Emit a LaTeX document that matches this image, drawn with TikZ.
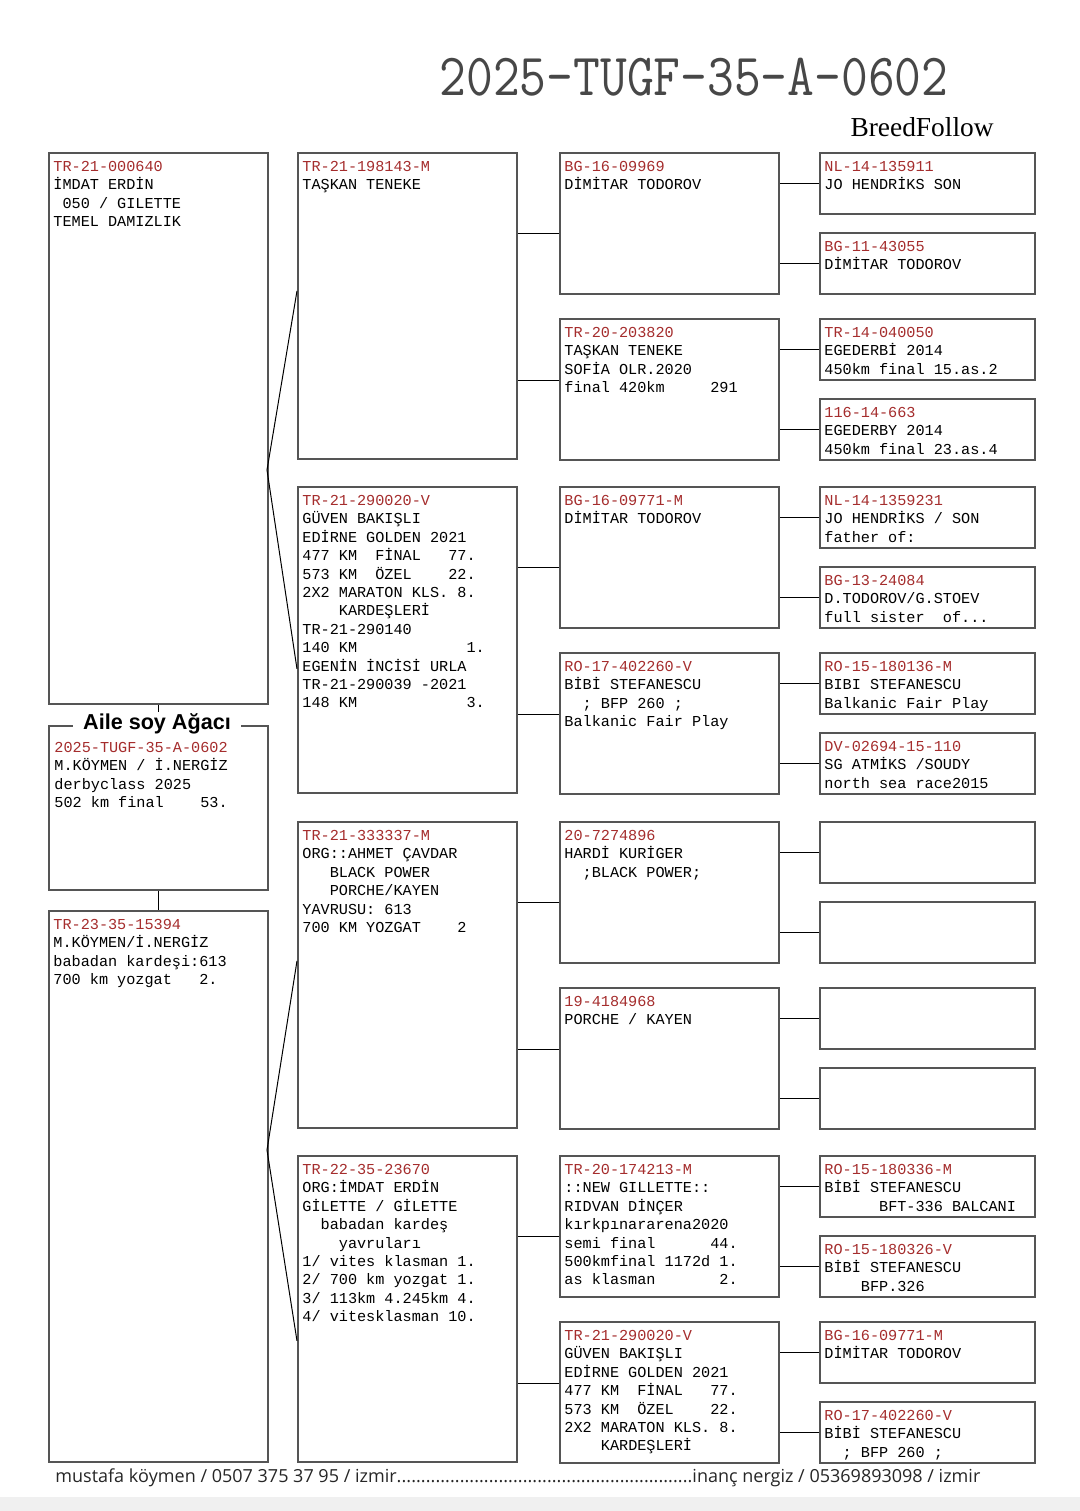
\documentclass[tikz,border=0pt]{standalone}
\usepackage{fontspec}
\usepackage{graphicx}
\usetikzlibrary{positioning}
\newfontfamily\pedfont{Liberation Mono}
\newfontfamily\brandfont{Liberation Serif}
\newfontfamily\footfont{Open Sans}
\newfontfamily\headfont{Liberation Sans}
\definecolor{idred}{RGB}{165,45,45}
\definecolor{boxgray}{RGB}{85,85,85}
\newcommand{\pad}[1]{\hspace*{#1\fontdimen2\font}}
\newcommand{\pedbox}[6]{%
  \node[#2] (#1) at (#3,#4) {};
  \node[txt] at ([shift={(5,5)}]#1.north west) {\rule{0pt}{7pt}\textcolor{idred}{#5}\\#6};}

\begin{document}
\begin{tikzpicture}[
    x=0.5pt, y=-0.5pt,
    pbox/.style={
        draw=boxgray, line width=0.9pt, inner sep=0pt,
        anchor=north west, minimum width=109.5pt
    },
    c1/.style={pbox, minimum height=275.5pt},
    c2/.style={pbox, minimum height=153pt},
    c3/.style={pbox, minimum height=70.5pt},
    c4/.style={pbox, minimum width=107.5pt, minimum height=30.5pt},
    txt/.style={
        anchor=north west, inner sep=0pt, align=left,
        font=\pedfont\fontsize{7.6}{9.2}\selectfont
    },
    link/.style={line width=0.5pt, black}
]

\fill[white] (0,0) rectangle (1080,1511);
\useasboundingbox (0,0) rectangle (1080,1511);
\fill[black!6] (0,1497) rectangle (1080,1511);

\node[font=\ttfamily\fontsize{26}{26}\selectfont, text=black!72] (title) at (694,77)
    {\scalebox{1}[1.15]{2025-TUGF-35-A-0602}};
\node[font=\brandfont\fontsize{13.7}{14}\selectfont, anchor=east, inner sep=0pt] (brand) at (994,127) {BreedFollow};

\pedbox{s}{c1}{48}{152}{TR-21-000640}{İMDAT ERDİN\\\pad{1}050 / GILETTE\\TEMEL DAMIZLIK}
\node[pbox, minimum height=82pt] (me) at (48,725) {};
\node[txt] (metxt) at ([shift={(6,13)}]me.north west)
    {\rule{0pt}{7pt}\textcolor{idred}{2025-TUGF-35-A-0602}\\M.KÖYMEN / İ.NERGİZ\\derbyclass 2025\\502 km final~~~~53.};
\pedbox{d}{c1}{48}{910}{TR-23-35-15394}{M.KÖYMEN/İ.NERGİZ\\babadan kardeşi:613\\700 km yozgat~~~2.}

\pedbox{ss}{c2}{297}{152}{TR-21-198143-M}{TAŞKAN TENEKE}
\pedbox{sd}{c2}{297}{486}{TR-21-290020-V}{GÜVEN BAKIŞLI\\EDİRNE GOLDEN 2021\\477 KM~~FİNAL~~~77.\\573 KM~~ÖZEL~~~~22.\\2X2 MARATON KLS. 8.\\\pad{4}KARDEŞLERİ\\TR-21-290140\\140 KM~~~~~~~~~~~~1.\\EGENİN İNCİSİ URLA\\TR-21-290039 -2021\\148 KM~~~~~~~~~~~~3.}
\pedbox{ds}{c2}{297}{821}{TR-21-333337-M}{ORG::AHMET ÇAVDAR\\\pad{3}BLACK POWER\\\pad{3}PORCHE/KAYEN\\YAVRUSU: 613\\700 KM YOZGAT~~~~2}
\pedbox{dd}{c2}{297}{1155}{TR-22-35-23670}{ORG:İMDAT ERDİN\\GİLETTE / GİLETTE\\\pad{2}babadan kardeş\\\pad{4}yavruları\\1/ vites klasman 1.\\2/ 700 km yozgat 1.\\3/ 113km 4.245km 4.\\4/ vitesklasman 10.}

\pedbox{sss}{c3}{559}{152}{BG-16-09969}{DİMİTAR TODOROV}
\pedbox{ssd}{c3}{559}{318}{TR-20-203820}{TAŞKAN TENEKE\\SOFİA OLR.2020\\final 420km~~~~~291}
\pedbox{sds}{c3}{559}{486}{BG-16-09771-M}{DİMİTAR TODOROV}
\pedbox{sdd}{c3}{559}{652}{RO-17-402260-V}{BİBİ STEFANESCU\\\pad{2}; BFP 260 ;\\Balkanic Fair Play}
\pedbox{dss}{c3}{559}{821}{20-7274896}{HARDİ KURİGER\\\pad{2};BLACK POWER;}
\pedbox{dsd}{c3}{559}{987}{19-4184968}{PORCHE / KAYEN}
\pedbox{dds}{c3}{559}{1155}{TR-20-174213-M}{::NEW GILLETTE::\\RIDVAN DİNÇER\\kırkpınararena2020\\semi final~~~~~~44.\\500kmfinal 1172d 1.\\as klasman~~~~~~~2.}
\pedbox{ddd}{c3}{559}{1321}{TR-21-290020-V}{GÜVEN BAKIŞLI\\EDİRNE GOLDEN 2021\\477 KM~~FİNAL~~~77.\\573 KM~~ÖZEL~~~~22.\\2X2 MARATON KLS. 8.\\\pad{4}KARDEŞLERİ}

\pedbox{ssss}{c4}{819}{152}{NL-14-135911}{JO HENDRİKS SON}
\pedbox{sssd}{c4}{819}{232}{BG-11-43055}{DİMİTAR TODOROV}
\pedbox{ssds}{c4}{819}{318}{TR-14-040050}{EGEDERBİ 2014\\450km final 15.as.2}
\pedbox{ssdd}{c4}{819}{398}{116-14-663}{EGEDERBY 2014\\450km final 23.as.4}
\pedbox{sdss}{c4}{819}{486}{NL-14-1359231}{JO HENDRİKS / SON\\father of:}
\pedbox{sdsd}{c4}{819}{566}{BG-13-24084}{D.TODOROV/G.STOEV\\full sister~~of...}
\pedbox{sdds}{c4}{819}{652}{RO-15-180136-M}{BIBI STEFANESCU\\Balkanic Fair Play}
\pedbox{sddd}{c4}{819}{732}{DV-02694-15-110}{SG ATMİKS /SOUDY\\north sea race2015}
\node[c4] (dsss) at (819,821) {};
\node[c4] (dssd) at (819,901) {};
\node[c4] (dsds) at (819,987) {};
\node[c4] (dsdd) at (819,1067) {};
\pedbox{ddss}{c4}{819}{1155}{RO-15-180336-M}{BİBİ STEFANESCU\\\pad{6}BFT-336 BALCANI}
\pedbox{ddsd}{c4}{819}{1235}{RO-15-180326-V}{BİBİ STEFANESCU\\\pad{4}BFP.326}
\pedbox{ddds}{c4}{819}{1321}{BG-16-09771-M}{DİMİTAR TODOROV}
\pedbox{dddd}{c4}{819}{1401}{RO-17-402260-V}{BİBİ STEFANESCU\\\pad{2}; BFP 260 ;}

\draw[link] (s.south) -- (me.north);
\draw[link] (me.south) -- (d.north);
\node[font=\headfont\bfseries\fontsize{10.8}{12}\selectfont, fill=white, inner xsep=5pt, inner ysep=1pt] (metitle) at (157,724) {Aile soy Ağacı};

\coordinate (sj) at (267,470);
\coordinate (dj) at (267,1150);
\draw[link] ([yshift=7.5pt]ss.west) -- (sj) -- ([yshift=-14.5pt]sd.west);
\draw[link] ([yshift=7pt]ds.west) -- (dj) -- ([yshift=-16pt]dd.west);

\foreach \p/\a/\b in {ss/sss/ssd, sd/sds/sdd, ds/dss/dsd, dd/dds/ddd} {
    \draw[link] ([yshift=-40.5pt]\a.north west) -- ([yshift=-40.5pt]\a.north west -| \p.east);
    \draw[link] ([yshift=-31pt]\b.north west) -- ([yshift=-31pt]\b.north west -| \p.east);
}

\foreach \a/\b in {sss/ssss, sss/sssd, ssd/ssds, ssd/ssdd, sds/sdss, sds/sdsd, sdd/sdds, sdd/sddd,
                   dss/dsss, dss/dssd, dsd/dsds, dsd/dsdd, dds/ddss, dds/ddsd, ddd/ddds, ddd/dddd}
    \draw[link] (\b.west) -- (\b.west -| \a.east);

\node[font=\footfont\fontsize{9}{10}\selectfont, text=black!85, anchor=west, inner sep=0pt] (foot) at (55,1478)
    {\makebox[462.5pt][l]{mustafa köymen / 0507 375 37 95 / izmir\xleaders\hbox{.}\hfill inanç nergiz / 05369893098 / izmir}};

\end{tikzpicture}
\end{document}
